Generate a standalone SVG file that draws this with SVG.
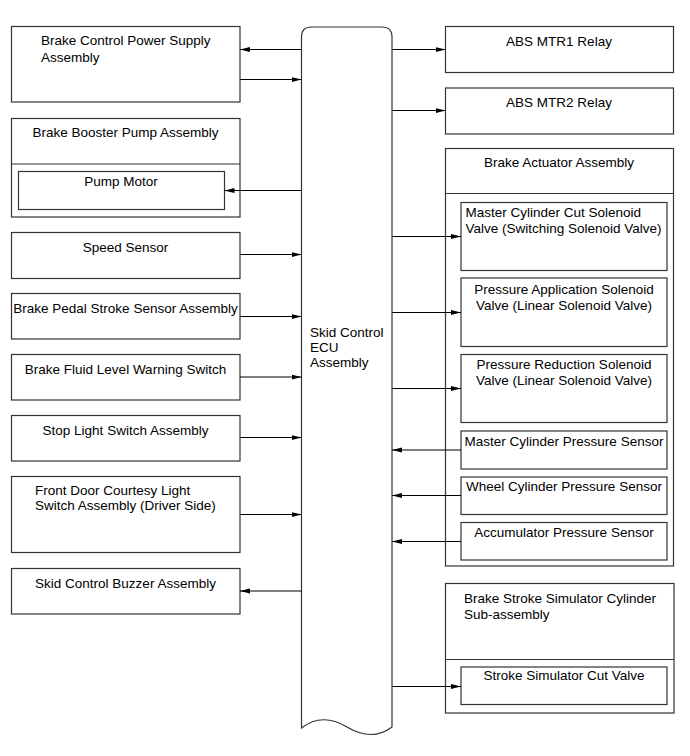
<svg xmlns="http://www.w3.org/2000/svg" width="690" height="756" viewBox="0 0 690 756">
<style>
.box{fill:#fff;stroke:#333;stroke-width:1.2}
.ln{fill:none;stroke:#000;stroke-width:1}
text{font-family:"Liberation Sans",Arial,sans-serif;font-size:13.5px;fill:#000}
.c{text-anchor:middle}
</style>
<defs>
<marker id="ah" markerWidth="10" markerHeight="6" refX="10" refY="3" orient="auto" markerUnits="userSpaceOnUse">
<path d="M0,0.5 L10,3 L0,5.5 z" fill="#000"/>
</marker>
</defs>
<rect width="690" height="756" fill="#fff"/>

<g id="ecu">
<path class="box" d="M301.5,728 L301.5,37 Q301.5,27 311.5,27 L382,27 Q392,27 392,37 L392,727 Q372,742 347,727 Q322,712 301.5,728 Z"/>
<text x="310" y="336.5">Skid Control</text>
<text x="310" y="351.5">ECU</text>
<text x="310" y="366.5">Assembly</text>
</g>

<g id="power-supply">
<rect class="box" x="11.5" y="26.5" width="228.5" height="75.5"/>
<text x="41" y="45">Brake Control Power Supply</text>
<text x="41" y="62">Assembly</text>
</g>

<g id="booster-pump">
<rect class="box" x="11.5" y="118.5" width="228.5" height="98.5"/>
<line class="box" x1="11.5" y1="164" x2="240" y2="164"/>
<text class="c" x="125.5" y="136.5">Brake Booster Pump Assembly</text>
<g id="pump-motor">
<rect class="box" x="18.5" y="171.5" width="206" height="38"/>
<text class="c" x="121" y="185.5">Pump Motor</text>
</g>
</g>

<g id="speed-sensor">
<rect class="box" x="11.5" y="232.5" width="228.5" height="46"/>
<text class="c" x="125.5" y="251.5">Speed Sensor</text>
</g>

<g id="pedal-stroke">
<rect class="box" x="11.5" y="293.5" width="228.5" height="45.5"/>
<text class="c" x="125.5" y="312.5">Brake Pedal Stroke Sensor Assembly</text>
</g>

<g id="fluid-level">
<rect class="box" x="11.5" y="354.5" width="228.5" height="45.5"/>
<text class="c" x="125.5" y="373.5">Brake Fluid Level Warning Switch</text>
</g>

<g id="stop-light">
<rect class="box" x="11.5" y="415.5" width="228.5" height="45.5"/>
<text class="c" x="125.5" y="434.5">Stop Light Switch Assembly</text>
</g>

<g id="courtesy-light">
<rect class="box" x="11.5" y="476.5" width="228.5" height="76"/>
<text x="35" y="495">Front Door Courtesy Light</text>
<text x="35" y="510">Switch Assembly (Driver Side)</text>
</g>

<g id="buzzer">
<rect class="box" x="11.5" y="568.5" width="228.5" height="45.5"/>
<text class="c" x="125.5" y="588">Skid Control Buzzer Assembly</text>
</g>

<g id="mtr1">
<rect class="box" x="445.5" y="26.5" width="228" height="46"/>
<text class="c" x="559" y="46">ABS MTR1 Relay</text>
</g>

<g id="mtr2">
<rect class="box" x="445.5" y="88" width="228" height="46"/>
<text class="c" x="559" y="106.5">ABS MTR2 Relay</text>
</g>

<g id="actuator">
<rect class="box" x="445.5" y="148.5" width="228" height="417.5"/>
<line class="box" x1="445.5" y1="193.5" x2="673.5" y2="193.5"/>
<text class="c" x="559" y="166.5">Brake Actuator Assembly</text>
<g id="mc-cut">
<rect class="box" x="461" y="202.5" width="206" height="68"/>
<text x="465.5" y="216.5">Master Cylinder Cut Solenoid</text>
<text x="465.5" y="232.5">Valve (Switching Solenoid Valve)</text>
</g>
<g id="press-app">
<rect class="box" x="461" y="278" width="206" height="68.5"/>
<text class="c" x="564" y="293.5">Pressure Application Solenoid</text>
<text class="c" x="564" y="309.5">Valve (Linear Solenoid Valve)</text>
</g>
<g id="press-red">
<rect class="box" x="461" y="354.5" width="206" height="68"/>
<text class="c" x="564" y="368.5">Pressure Reduction Solenoid</text>
<text class="c" x="564" y="384.5">Valve (Linear Solenoid Valve)</text>
</g>
<g id="mc-sensor">
<rect class="box" x="461" y="431" width="206" height="38"/>
<text class="c" x="564" y="446">Master Cylinder Pressure Sensor</text>
</g>
<g id="wc-sensor">
<rect class="box" x="461" y="477" width="206" height="37.5"/>
<text class="c" x="564" y="491">Wheel Cylinder Pressure Sensor</text>
</g>
<g id="acc-sensor">
<rect class="box" x="461" y="522.5" width="206" height="37.5"/>
<text class="c" x="564" y="536.5">Accumulator Pressure Sensor</text>
</g>
</g>

<g id="simulator">
<rect class="box" x="445.5" y="583.5" width="228.5" height="129.5"/>
<line class="box" x1="445.5" y1="659.5" x2="674" y2="659.5"/>
<text x="464" y="602.5">Brake Stroke Simulator Cylinder</text>
<text x="464" y="618.5">Sub-assembly</text>
<g id="sim-cut">
<rect class="box" x="461" y="667" width="206" height="37.5"/>
<text class="c" x="564" y="680">Stroke Simulator Cut Valve</text>
</g>
</g>

<g id="connectors">
<line class="ln" x1="301.5" y1="49.5" x2="240" y2="49.5" marker-end="url(#ah)"/>
<line class="ln" x1="240" y1="79.5" x2="301.5" y2="79.5" marker-end="url(#ah)"/>
<line class="ln" x1="301.5" y1="190.5" x2="224.5" y2="190.5" marker-end="url(#ah)"/>
<line class="ln" x1="240" y1="254.5" x2="301.5" y2="254.5" marker-end="url(#ah)"/>
<line class="ln" x1="240" y1="316.5" x2="301.5" y2="316.5" marker-end="url(#ah)"/>
<line class="ln" x1="240" y1="377" x2="301.5" y2="377" marker-end="url(#ah)"/>
<line class="ln" x1="240" y1="437.5" x2="301.5" y2="437.5" marker-end="url(#ah)"/>
<line class="ln" x1="240" y1="514.5" x2="301.5" y2="514.5" marker-end="url(#ah)"/>
<line class="ln" x1="301.5" y1="591" x2="240" y2="591" marker-end="url(#ah)"/>
<line class="ln" x1="392" y1="49.5" x2="445.5" y2="49.5" marker-end="url(#ah)"/>
<line class="ln" x1="392" y1="110.5" x2="445.5" y2="110.5" marker-end="url(#ah)"/>
<line class="ln" x1="392" y1="236.5" x2="461" y2="236.5" marker-end="url(#ah)"/>
<line class="ln" x1="392" y1="312.5" x2="461" y2="312.5" marker-end="url(#ah)"/>
<line class="ln" x1="392" y1="388.5" x2="461" y2="388.5" marker-end="url(#ah)"/>
<line class="ln" x1="461" y1="450" x2="392" y2="450" marker-end="url(#ah)"/>
<line class="ln" x1="461" y1="495.5" x2="392" y2="495.5" marker-end="url(#ah)"/>
<line class="ln" x1="461" y1="541.5" x2="392" y2="541.5" marker-end="url(#ah)"/>
<line class="ln" x1="392" y1="686.5" x2="461" y2="686.5" marker-end="url(#ah)"/>
</g>
</svg>
